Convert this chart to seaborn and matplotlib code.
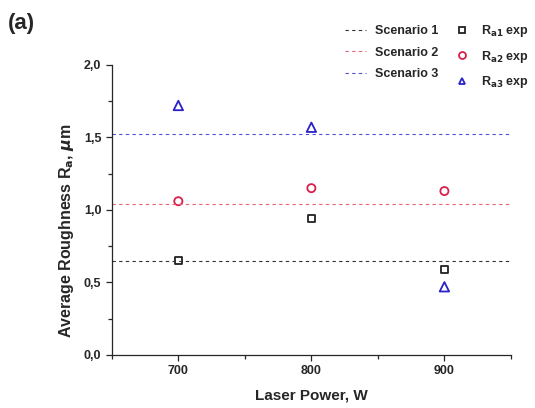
import numpy as np
import pandas as pd
import seaborn as sns
from matplotlib import pyplot as plt
from matplotlib.ticker import FuncFormatter, MultipleLocator
from matplotlib.lines import Line2D

power = [700, 800, 900]
ra1_exp = [0.65, 0.94, 0.59]
ra2_exp = [1.06, 1.15, 1.13]
ra3_exp = [1.72, 1.57, 0.47]
scenarios = [0.65, 1.04, 1.52]

colors = ['#222222', '#d8204a', '#2a22c8']
line_colors = ['#333333', '#e8607a', '#5050d0']
markers = ['s', 'o', '^']
msizes = [30, 34, 46]
labels = [r'R$_{\mathbf{a1}}$ exp', r'R$_{\mathbf{a2}}$ exp', r'R$_{\mathbf{a3}}$ exp']

sns.set_style('ticks')
plt.rcParams['font.family'] = ['Liberation Sans', 'DejaVu Sans']
plt.rcParams['font.weight'] = 'bold'
plt.rcParams['mathtext.default'] = 'bf'

df = pd.DataFrame({'power': power * 3,
                   'ra': ra1_exp + ra2_exp + ra3_exp,
                   'series': [labels[0]] * 3 + [labels[1]] * 3 + [labels[2]] * 3})

fig = plt.figure(figsize=(5.35, 4.08), dpi=100)
ax = fig.add_axes([0.209, 0.130, 0.746, 0.711])

for i, val in enumerate(scenarios):
    ax.axhline(val, color=line_colors[i], lw=0.8, ls=(0, (3, 3)))

for i, lab in enumerate(labels):
    sub = df[df['series'] == lab]
    sns.scatterplot(data=sub, x='power', y='ra', ax=ax, marker=markers[i],
                    s=msizes[i], facecolor='none', edgecolor=colors[i], linewidth=1.3,
                    legend=False)

ax.set_xlim(650, 950)
ax.set_ylim(0, 2.0)
ax.xaxis.set_major_locator(MultipleLocator(100))
ax.xaxis.set_minor_locator(MultipleLocator(50))
ax.yaxis.set_major_locator(MultipleLocator(0.5))
ax.yaxis.set_minor_locator(MultipleLocator(0.25))
ax.yaxis.set_major_formatter(FuncFormatter(lambda v, p: f'{v:.1f}'.replace('.', ',')))
ax.tick_params(which='major', length=4, width=0.9, labelsize=9, direction='out')
ax.tick_params(which='minor', length=3, width=0.9, direction='out')
for lbl in ax.get_xticklabels() + ax.get_yticklabels():
    lbl.set_fontweight('bold')
sns.despine(ax=ax)
ax.spines['left'].set_linewidth(0.9)
ax.spines['bottom'].set_linewidth(0.9)

ax.set_xlabel('Laser Power, W', fontsize=11, fontweight='bold', labelpad=8)
ax.set_ylabel(r'Average Roughness R$_{\mathbf{a}}$, $\mathit{\mu}$m', fontsize=11.5,
              fontweight='bold', labelpad=8)
ax.yaxis.set_label_coords(-0.09, 0.43)

handles = []
for i in range(3):
    handles.append(Line2D([], [], color=line_colors[i], lw=0.8, ls=(0, (3, 3))))
for i in range(3):
    handles.append(Line2D([], [], color=colors[i], marker=markers[i], ls='none',
                          markerfacecolor='none', markersize=5, markeredgewidth=1.3))
leg_labels = ['Scenario 1', 'Scenario 2', 'Scenario 3'] + labels
fig.legend(handles, leg_labels, ncol=2, loc='upper right', bbox_to_anchor=(1.01, 0.97),
           frameon=False, handlelength=1.7, columnspacing=1.0, handletextpad=0.7,
           labelspacing=0.75, prop={'weight': 'bold', 'size': 9})

fig.text(0.015, 0.93, '(a)', fontsize=16, fontweight='bold')

fig.savefig('out.png', dpi=100)
